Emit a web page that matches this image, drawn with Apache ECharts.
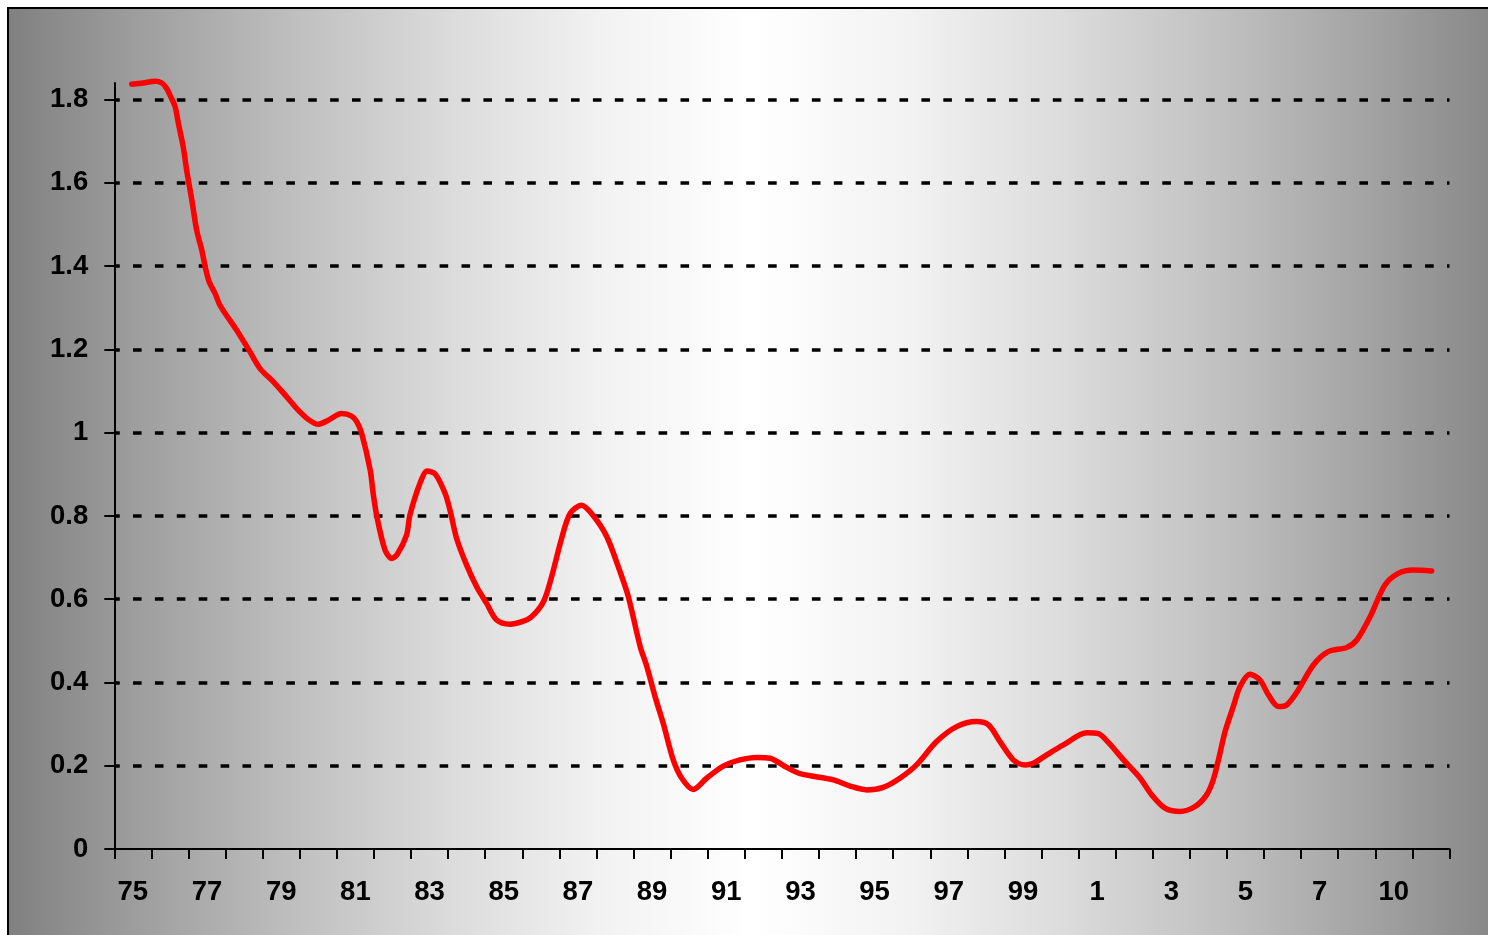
<!DOCTYPE html>
<html>
<head>
<meta charset="utf-8">
<script src="https://cdn.jsdelivr.net/npm/echarts@6/dist/echarts.min.js"></script>
<style>
  html, body { margin: 0; padding: 0; background: #fff; }
  #chart { width: 1488px; height: 935px; }
</style>
</head>
<body>
<div id="chart"></div>
<script>
// Category labels on the x axis (one per year slot)
const xLabels = ['75','76','77','78','79','80','81','82','83','84','85','86','87','88','89',
  '90','91','92','93','94','95','96','97','98','99','0','1','2','3','4','5','6','7','8','10','11'];

// Y axis ticks
const yTicks = [0, 0.2, 0.4, 0.6, 0.8, 1, 1.2, 1.4, 1.6, 1.8];

// Line series: position in years and value
const lineYear = [
  1974.97, 1975.28, 1975.60, 1975.78, 1975.91, 1976.00, 1976.14, 1976.23, 1976.36, 1976.45,
  1976.59, 1976.72, 1976.86, 1976.95, 1977.06, 1977.22, 1977.35, 1977.80, 1978.16, 1978.43,
  1978.79, 1979.15, 1979.42, 1979.73, 1980.00, 1980.27, 1980.63, 1980.90, 1981.04, 1981.17,
  1981.40, 1981.48, 1981.58, 1981.80, 1981.98, 1982.13, 1982.38, 1982.47, 1982.74, 1982.94,
  1983.15, 1983.42, 1983.55, 1983.73, 1984.00, 1984.27, 1984.54, 1984.81, 1985.17, 1985.49,
  1985.75, 1986.07, 1986.29, 1986.56, 1986.79, 1987.10, 1987.42, 1987.78, 1988.14, 1988.36,
  1988.68, 1988.86, 1989.08, 1989.30, 1989.57, 1989.80, 1990.11, 1990.47, 1990.92, 1991.37,
  1991.82, 1992.18, 1992.63, 1992.99, 1993.89, 1994.34, 1994.79, 1995.23, 1995.68, 1996.13,
  1996.67, 1997.21, 1997.75, 1998.07, 1998.38, 1998.74, 1999.06, 1999.28, 1999.64, 2000.09,
  2000.72, 2001.03, 2001.30, 2001.71, 2002.16, 2002.47, 2002.83, 2003.23, 2003.64, 2003.95,
  2004.13, 2004.27, 2004.45, 2004.67, 2004.85, 2005.12, 2005.39, 2005.62, 2005.89, 2006.11,
  2006.38, 2006.83, 2007.23, 2007.73, 2008.00, 2008.36, 2008.76, 2009.12, 2009.52, 2010.02
];
const lineValue = [
  1.837, 1.840, 1.844, 1.840, 1.827, 1.811, 1.783, 1.742, 1.686, 1.631,
  1.559, 1.487, 1.438, 1.399, 1.362, 1.334, 1.306, 1.246, 1.194, 1.154,
  1.122, 1.086, 1.058, 1.032, 1.020, 1.030, 1.046, 1.040, 1.026, 0.998,
  0.910, 0.854, 0.798, 0.718, 0.698, 0.708, 0.754, 0.802, 0.878, 0.908,
  0.901, 0.854, 0.814, 0.746, 0.682, 0.630, 0.590, 0.550, 0.540, 0.546,
  0.558, 0.594, 0.654, 0.746, 0.806, 0.826, 0.800, 0.750, 0.665, 0.606,
  0.486, 0.438, 0.366, 0.302, 0.214, 0.170, 0.143, 0.170, 0.199, 0.214,
  0.220, 0.218, 0.196, 0.181, 0.166, 0.151, 0.142, 0.148, 0.170, 0.202,
  0.258, 0.294, 0.306, 0.298, 0.258, 0.214, 0.202, 0.206, 0.226, 0.250,
  0.279, 0.277, 0.256, 0.214, 0.170, 0.130, 0.098, 0.090, 0.102, 0.130,
  0.166, 0.214, 0.282, 0.342, 0.390, 0.420, 0.406, 0.370, 0.342, 0.346,
  0.376, 0.442, 0.474, 0.484, 0.502, 0.558, 0.634, 0.662, 0.670, 0.668
];

const chart = echarts.init(document.getElementById('chart'), null, { renderer: 'canvas' });

const labelFont = {
  fontFamily: "'Liberation Sans', Arial, sans-serif",
  fontWeight: 'bold',
  fontSize: 27.5,
  color: '#000'
};

const option = {
  backgroundColor: '#ffffff',
  animation: false,
  graphic: [{
    type: 'rect',
    z: -100,
    silent: true,
    shape: { x: 8, y: 8, width: 1520, height: 960 },
    style: {
      fill: new echarts.graphic.LinearGradient(0, 0, 1, 0, [
        { offset: 0, color: '#808080' },
        { offset: 0.098, color: '#a2a2a2' },
        { offset: 0.196, color: '#c1c1c1' },
        { offset: 0.294, color: '#dcdcdc' },
        { offset: 0.392, color: '#f2f2f2' },
        { offset: 0.49, color: '#ffffff' },
        { offset: 0.592, color: '#f2f2f2' },
        { offset: 0.694, color: '#dcdcdc' },
        { offset: 0.796, color: '#c1c1c1' },
        { offset: 0.898, color: '#a2a2a2' },
        { offset: 1, color: '#808080' }
      ]),
      stroke: '#000',
      lineWidth: 2
    }
  }],
  grid: { left: 114.3, right: 38.5, top: 83, bottom: 86 },
  xAxis: [{
    type: 'category',
    data: xLabels,
    boundaryGap: true,
    axisLine: { show: true, lineStyle: { color: '#000', width: 2 } },
    axisTick: { show: true, interval: 0, length: 10, inside: false, lineStyle: { color: '#000', width: 2 } },
    axisLabel: Object.assign({ interval: 1, margin: 29 }, labelFont),
    splitLine: { show: false }
  }, {
    type: 'value',
    min: 1974.5,
    max: 2010.5,
    show: false
  }],
  yAxis: [{
    type: 'value',
    min: 0,
    max: 1.84,
    interval: 0.2,
    axisLine: { show: true, lineStyle: { color: '#000', width: 2 } },
    axisTick: { show: true, length: 10, inside: false, customValues: yTicks, lineStyle: { color: '#000', width: 2 } },
    axisLabel: Object.assign({ margin: 26, customValues: yTicks }, labelFont),
    splitLine: {
      show: true,
      showMinLine: false,
      lineStyle: { color: '#000', width: 3.5, type: [8.6, 13.3], dashOffset: 3.2 }
    }
  }, {
    type: 'value',
    min: 0,
    max: 1.84,
    interval: 0.2,
    position: 'left',
    axisLine: { show: false },
    axisTick: { show: true, length: 5, inside: true, customValues: yTicks, lineStyle: { color: '#000', width: 2 } },
    axisLabel: { show: false },
    splitLine: { show: false }
  }],
  series: [{
    type: 'line',
    xAxisIndex: 1,
    yAxisIndex: 0,
    data: lineYear.map((t, i) => [t, lineValue[i]]),
    showSymbol: false,
    symbol: 'none',
    smooth: 0.3,
    clip: false,
    lineStyle: { color: '#ff0000', width: 5.5, cap: 'round', join: 'round' },
    z: 5
  }]
};

chart.setOption(option);
</script>
</body>
</html>
